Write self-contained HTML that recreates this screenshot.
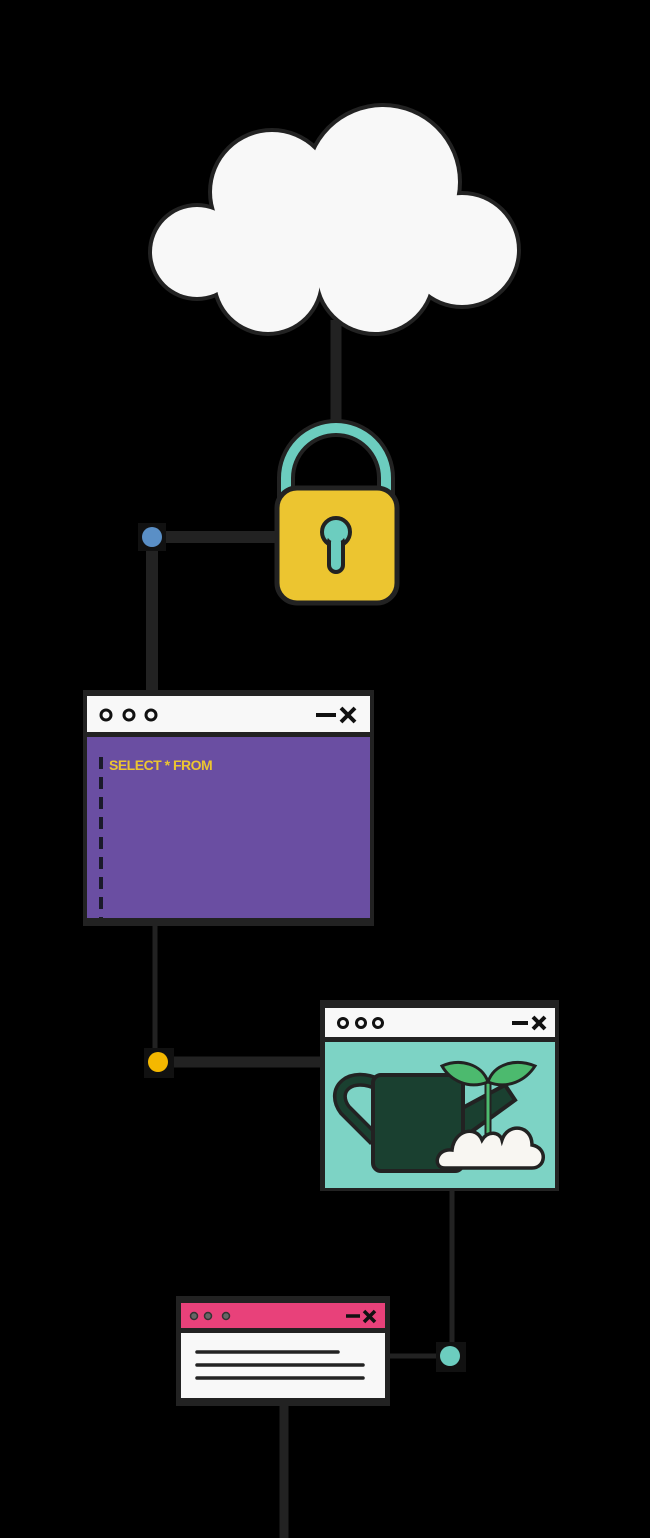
<!DOCTYPE html>
<html><head><meta charset="utf-8"><style>
html,body{margin:0;padding:0;background:#000;}
svg{display:block}
</style></head><body>
<svg width="650" height="1538" viewBox="0 0 650 1538" xmlns="http://www.w3.org/2000/svg">
<rect width="650" height="1538" fill="#000"/>
<!-- connectors -->
<g stroke="#222" fill="none">
<line x1="336" y1="320" x2="336" y2="425" stroke-width="11"/>
<line x1="152" y1="537" x2="278" y2="537" stroke-width="12"/>
<line x1="152" y1="537" x2="152" y2="692" stroke-width="12"/>
<line x1="155" y1="922" x2="155" y2="1062" stroke-width="5"/>
<line x1="158" y1="1062" x2="323" y2="1062" stroke-width="11"/>
<line x1="452" y1="1188" x2="452" y2="1356" stroke-width="5"/>
<line x1="385" y1="1356" x2="450" y2="1356" stroke-width="5"/>
<line x1="284" y1="1400" x2="284" y2="1538" stroke-width="9"/>
</g>
<!-- cloud -->
<g fill="#222">
<circle cx="197" cy="252" r="49"/><circle cx="272" cy="192" r="64"/><circle cx="383" cy="182" r="79"/>
<circle cx="462" cy="250" r="59"/><circle cx="268" cy="280" r="56"/><circle cx="375" cy="275" r="61"/>
</g>
<g fill="#f8f8f8">
<circle cx="197" cy="252" r="45"/><circle cx="272" cy="192" r="60"/><circle cx="383" cy="182" r="75"/>
<circle cx="462" cy="250" r="55"/><circle cx="268" cy="280" r="52"/><circle cx="375" cy="275" r="57"/>
<rect x="220" y="200" width="240" height="85"/>
</g>
<!-- lock -->
<path d="M286 500 V478 A50 50 0 0 1 386 478 V500" fill="none" stroke="#222" stroke-width="18"/>
<path d="M286 500 V478 A50 50 0 0 1 386 478 V500" fill="none" stroke="#6ccdbf" stroke-width="10"/>
<rect x="277" y="488" width="120" height="115" rx="20" fill="#ecc530" stroke="#222" stroke-width="5"/>
<circle cx="336" cy="532" r="14" fill="#6ccdbf" stroke="#222" stroke-width="4"/>
<rect x="329" y="535" width="14" height="37" rx="7" fill="#6ccdbf" stroke="#222" stroke-width="4"/>
<circle cx="336" cy="532" r="10" fill="#6ccdbf"/>
<!-- blue dot -->
<rect x="138" y="523" width="28" height="28" fill="#111"/>
<circle cx="152" cy="537" r="10" fill="#5a8fc6"/>
<!-- SQL window -->
<rect x="83" y="690" width="291" height="236" fill="#222"/>
<rect x="87" y="696" width="283" height="36" fill="#f8f8f8"/>
<rect x="87" y="737" width="283" height="181" fill="#6a4ea2"/>
<g fill="none" stroke="#111" stroke-width="3">
<circle cx="106" cy="715" r="5"/><circle cx="129" cy="715" r="5"/><circle cx="151" cy="715" r="5"/>
<line x1="316" y1="715" x2="336" y2="715" stroke-width="4"/>
<line x1="341" y1="708" x2="355" y2="722" stroke-width="4"/><line x1="355" y1="708" x2="341" y2="722" stroke-width="4"/>
</g>
<line x1="101" y1="757" x2="101" y2="918" stroke="#1a1a2a" stroke-width="4" stroke-dasharray="12 8"/>
<text x="109" y="770" fill="#ecc530" font-family="Liberation Sans, sans-serif" font-weight="bold" font-size="14" letter-spacing="-0.5">SELECT * FROM</text>
<!-- yellow dot -->
<rect x="144" y="1048" width="30" height="30" fill="#111"/>
<circle cx="158" cy="1062" r="10" fill="#f5b800"/>
<!-- watering window -->
<rect x="320" y="1000" width="239" height="191" fill="#222"/>
<rect x="325" y="1008" width="230" height="29" fill="#f8f8f8"/>
<rect x="325" y="1042" width="230" height="146" fill="#7dd3c5"/>
<g fill="none" stroke="#111" stroke-width="3">
<circle cx="343" cy="1023" r="4.5"/><circle cx="361" cy="1023" r="4.5"/><circle cx="378" cy="1023" r="4.5"/>
<line x1="512" y1="1023" x2="528" y2="1023" stroke-width="4"/>
<line x1="533" y1="1017" x2="545" y2="1029" stroke-width="4"/><line x1="545" y1="1017" x2="533" y2="1029" stroke-width="4"/>
</g>
<path d="M380 1085 C350 1070 330 1090 345 1110 L375 1140" fill="none" stroke="#222" stroke-width="14"/>
<path d="M380 1085 C350 1070 330 1090 345 1110 L375 1140" fill="none" stroke="#1a4030" stroke-width="7"/>
<path d="M455 1112 L505 1085 L515 1100 L460 1140 Z" fill="#1a4030" stroke="#222" stroke-width="4"/>
<rect x="373" y="1075" width="90" height="96" rx="8" fill="#1a4030" stroke="#222" stroke-width="4"/>
<line x1="488" y1="1082" x2="488" y2="1137" stroke="#222" stroke-width="7"/>
<line x1="488" y1="1082" x2="488" y2="1137" stroke="#4cba6e" stroke-width="3"/>
<path d="M442 1066 C460 1058 482 1064 488 1082 C468 1090 450 1080 442 1066 Z" fill="#4cba6e" stroke="#222" stroke-width="3"/>
<path d="M535 1066 C515 1058 494 1064 488 1082 C508 1090 526 1080 535 1066 Z" fill="#4cba6e" stroke="#222" stroke-width="3"/>
<path d="M445 1168 C432 1168 436 1148 452 1150 C454 1130 476 1125 482 1140 C488 1130 500 1132 502 1140 C508 1122 532 1125 532 1145 C548 1148 546 1168 532 1168 Z" fill="#f8f6f2" stroke="#222" stroke-width="3.5"/>
<!-- teal dot -->
<rect x="436" y="1342" width="30" height="30" fill="#111"/>
<circle cx="450" cy="1356" r="10" fill="#6ccdbf"/>
<!-- pink window -->
<rect x="176" y="1296" width="214" height="110" fill="#222"/>
<rect x="181" y="1303" width="204" height="25" fill="#e8417a"/>
<rect x="181" y="1333" width="204" height="65" fill="#f8f8f8"/>
<g fill="#666" stroke="#333" stroke-width="1.5">
<circle cx="194" cy="1316" r="3.5"/><circle cx="208" cy="1316" r="3.5"/><circle cx="226" cy="1316" r="3.5"/>
</g>
<g stroke="#111" stroke-width="3.5" fill="none">
<line x1="346" y1="1316" x2="360" y2="1316"/>
<line x1="364" y1="1311" x2="375" y2="1322"/><line x1="375" y1="1311" x2="364" y2="1322"/>
</g>
<g stroke="#222" stroke-width="3.5" stroke-linecap="round">
<line x1="197" y1="1352" x2="338" y2="1352"/>
<line x1="197" y1="1365" x2="363" y2="1365"/>
<line x1="197" y1="1378" x2="363" y2="1378"/>
</g>
</svg>
</body></html>
